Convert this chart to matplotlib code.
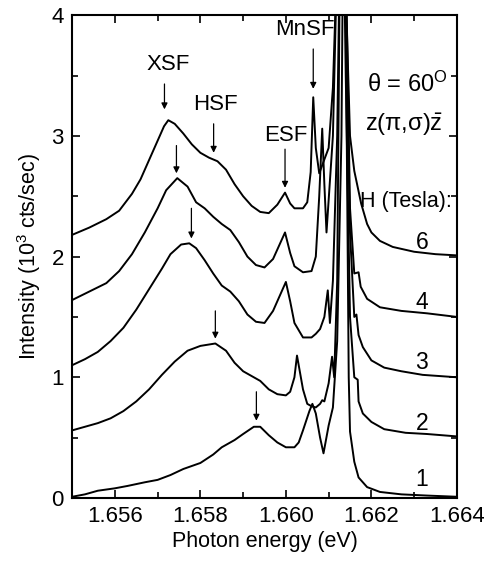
import numpy as np
import matplotlib
matplotlib.use("Agg")
import matplotlib.pyplot as plt
from matplotlib.ticker import MultipleLocator, FormatStrFormatter

plt.rcParams['font.family'] = ['Liberation Sans', 'DejaVu Sans']
plt.rcParams['mathtext.fontset'] = 'custom'
plt.rcParams['mathtext.rm'] = 'Liberation Sans'
plt.rcParams['mathtext.it'] = 'Liberation Sans:italic'

# spectra, one per field (offset already included)
e6 = [1.6550, 1.6554, 1.6558, 1.6561, 1.6564, 1.6566, 1.6568, 1.6570, 1.65715, 1.65725,
      1.6574, 1.6576, 1.6578, 1.6580, 1.6582, 1.6584, 1.6586, 1.6588, 1.6590, 1.6592,
      1.6594, 1.6596, 1.6598, 1.65998, 1.6601, 1.6602, 1.6604, 1.6605, 1.66058, 1.66064,
      1.6607, 1.66078, 1.6610, 1.6611, 1.6612, 1.66128, 1.6614, 1.6615, 1.6616, 1.66176,
      1.6619, 1.6620, 1.6622, 1.6625, 1.6630, 1.6635, 1.6640]
i6 = [2.18, 2.24, 2.31, 2.38, 2.52, 2.64, 2.80, 2.96, 3.08, 3.13,
      3.10, 3.02, 2.93, 2.86, 2.82, 2.79, 2.72, 2.60, 2.50, 2.42,
      2.37, 2.36, 2.43, 2.53, 2.44, 2.40, 2.40, 2.45, 2.70, 3.32,
      2.90, 2.69, 2.90, 3.40, 4.50, 6.00, 4.20, 3.00, 2.71, 2.44,
      2.27, 2.20, 2.13, 2.08, 2.04, 2.02, 2.01]

e4 = [1.6550, 1.6554, 1.6558, 1.6561, 1.6564, 1.6567, 1.6570, 1.6572, 1.65746, 1.6577,
      1.6579, 1.6581, 1.6583, 1.6585, 1.6587, 1.6589, 1.6591, 1.6593, 1.6595, 1.6597,
      1.65998, 1.6601, 1.6602, 1.6604, 1.6606, 1.6607, 1.66078, 1.66085, 1.6609, 1.66095,
      1.6611, 1.6612, 1.6613, 1.6614, 1.6615, 1.6616, 1.6617, 1.66175, 1.6619, 1.6622,
      1.6627, 1.6633, 1.6640]
i4 = [1.64, 1.71, 1.78, 1.88, 2.02, 2.20, 2.40, 2.55, 2.65, 2.58,
      2.45, 2.40, 2.33, 2.27, 2.22, 2.12, 2.00, 1.93, 1.91, 1.98,
      2.20, 2.03, 1.92, 1.87, 1.88, 2.00, 2.50, 3.06, 2.60, 2.20,
      3.00, 4.50, 6.00, 4.50, 2.40, 1.86, 1.87, 1.75, 1.65, 1.58,
      1.55, 1.53, 1.50]

e3 = [1.6550, 1.6553, 1.6556, 1.6559, 1.6562, 1.6565, 1.6568, 1.6571, 1.6573, 1.65755,
      1.65774, 1.6579, 1.6581, 1.6583, 1.6585, 1.6587, 1.6589, 1.6591, 1.6593, 1.6595,
      1.6597, 1.6600, 1.6601, 1.6602, 1.6604, 1.6606, 1.6607, 1.6608, 1.6609, 1.66098,
      1.66103, 1.6611, 1.6612, 1.66132, 1.6614, 1.6615, 1.6616, 1.66165, 1.6617, 1.6618,
      1.6620, 1.6623, 1.6627, 1.6632, 1.6640]
i3 = [1.10, 1.15, 1.21, 1.30, 1.41, 1.56, 1.73, 1.90, 2.02, 2.10,
      2.11, 2.07, 1.97, 1.86, 1.76, 1.71, 1.63, 1.52, 1.46, 1.45,
      1.55, 1.79, 1.63, 1.45, 1.33, 1.33, 1.36, 1.40, 1.50, 1.72,
      1.45, 1.80, 3.00, 6.00, 4.00, 2.20, 1.50, 1.52, 1.35, 1.25,
      1.14, 1.08, 1.05, 1.02, 1.00]

e2 = [1.6550, 1.6553, 1.6556, 1.6559, 1.6562, 1.6565, 1.6568, 1.6571, 1.6574, 1.6577,
      1.6580, 1.65835, 1.6586, 1.6588, 1.6590, 1.6592, 1.6594, 1.6596, 1.6598, 1.6600,
      1.6601, 1.6602, 1.66026, 1.6603, 1.6604, 1.6605, 1.6606, 1.6607, 1.6608, 1.66085,
      1.6609, 1.6610, 1.66108, 1.66113, 1.6612, 1.6613, 1.6614, 1.6615, 1.6616, 1.66168,
      1.6617, 1.6618, 1.6620, 1.6623, 1.6628, 1.6633, 1.6640]
i2 = [0.56, 0.59, 0.62, 0.66, 0.72, 0.80, 0.90, 1.02, 1.13, 1.22,
      1.26, 1.28, 1.22, 1.12, 1.05, 1.01, 0.97, 0.90, 0.86, 0.85,
      0.88, 1.00, 1.18, 1.10, 0.90, 0.78, 0.76, 0.75, 0.78, 0.81,
      0.80, 0.95, 1.17, 1.00, 1.80, 6.00, 3.50, 1.50, 1.00, 0.98,
      0.80, 0.70, 0.63, 0.57, 0.54, 0.53, 0.51]

e1 = [1.6550, 1.6553, 1.6556, 1.6560, 1.6563, 1.6567, 1.6570, 1.6573, 1.6576, 1.6580,
      1.6583, 1.6585, 1.6588, 1.6590, 1.65925, 1.6594, 1.6596, 1.6598, 1.6600, 1.6601,
      1.6602, 1.6603, 1.6604, 1.66055, 1.66062, 1.6607, 1.6608, 1.66088, 1.6610, 1.6611,
      1.6612, 1.6613, 1.66137, 1.6614, 1.66147, 1.6615, 1.6616, 1.6617, 1.6619, 1.6622,
      1.6627, 1.6633, 1.6640]
i1 = [0.01, 0.03, 0.06, 0.08, 0.10, 0.13, 0.15, 0.19, 0.24, 0.29,
      0.36, 0.42, 0.48, 0.53, 0.59, 0.59, 0.52, 0.46, 0.42, 0.42,
      0.42, 0.46, 0.56, 0.72, 0.78, 0.70, 0.50, 0.37, 0.60, 0.75,
      1.30, 3.00, 6.00, 4.00, 1.00, 0.55, 0.30, 0.17, 0.09, 0.05,
      0.03, 0.02, 0.01]

fields = ['6', '4', '3', '2', '1']
label_y = [2.12, 1.62, 1.12, 0.62, 0.15]

# peak markers
peak_names = ['XSF', 'HSF', 'ESF', 'MnSF']
peak_text_x = [1.65725, 1.65835, 1.66000, 1.66045]
peak_text_y = [3.59, 3.26, 3.00, 3.88]
peak_x = [1.65716, 1.65831, 1.65998, 1.66064]
peak_arrow = [(3.43, 3.22), (3.10, 2.86), (2.89, 2.57), (3.72, 3.39)]
xsf_x = [1.65744, 1.65779, 1.65835, 1.65931]
xsf_arrow = [(2.92, 2.69), (2.40, 2.15), (1.55, 1.32), (0.88, 0.64)]

fig = plt.figure(figsize=(4.84, 5.63), dpi=100)
ax = fig.add_axes([0.149, 0.1155, 0.795, 0.8575])

for e, i in [(e6, i6), (e4, i4), (e3, i3), (e2, i2), (e1, i1)]:
    ax.plot(e, i, color='black', lw=1.4)

arr = dict(arrowstyle='-|>', color='black', lw=0.9, mutation_scale=9, shrinkA=0, shrinkB=0)
for name, tx, ty, x, (a0, a1) in zip(peak_names, peak_text_x, peak_text_y, peak_x, peak_arrow):
    ax.text(tx, ty, name, ha='center', va='center', fontsize=16)
    ax.annotate('', xy=(x, a1), xytext=(x, a0), arrowprops=arr)
for x, (a0, a1) in zip(xsf_x, xsf_arrow):
    ax.annotate('', xy=(x, a1), xytext=(x, a0), arrowprops=arr)

ax.text(1.66284, 3.43, 'θ = 60$^{\\mathrm{O}}$', ha='center', va='center', fontsize=17)
ax.text(1.66275, 3.09, 'z(π,σ)$\\bar{\\mathrm{z}}$', ha='center', va='center', fontsize=17)
ax.text(1.66174, 2.46, 'H (Tesla):', ha='left', va='center', fontsize=15.5)
for f, y in zip(fields, label_y):
    ax.text(1.66318, y, f, ha='center', va='center', fontsize=16.5)

ax.set_xlim(1.655, 1.664)
ax.set_ylim(0, 4)
ax.xaxis.set_major_locator(MultipleLocator(0.002))
ax.xaxis.set_minor_locator(MultipleLocator(0.001))
ax.xaxis.set_major_formatter(FormatStrFormatter('%.3f'))
ax.yaxis.set_major_locator(MultipleLocator(1))
ax.yaxis.set_minor_locator(MultipleLocator(0.5))
ax.tick_params(which='both', direction='in', top=True, right=True, labelsize=16, width=1.2)
ax.tick_params(which='major', length=6, pad=6)
ax.tick_params(which='minor', length=4)
for s in ax.spines.values():
    s.set_linewidth(1.5)

ax.set_xlabel('Photon energy (eV)', fontsize=15.5, labelpad=3)
ax.set_ylabel('Intensity (10$^3$ cts/sec)', fontsize=15.5, labelpad=6)

fig.savefig('out.png', dpi=100)
